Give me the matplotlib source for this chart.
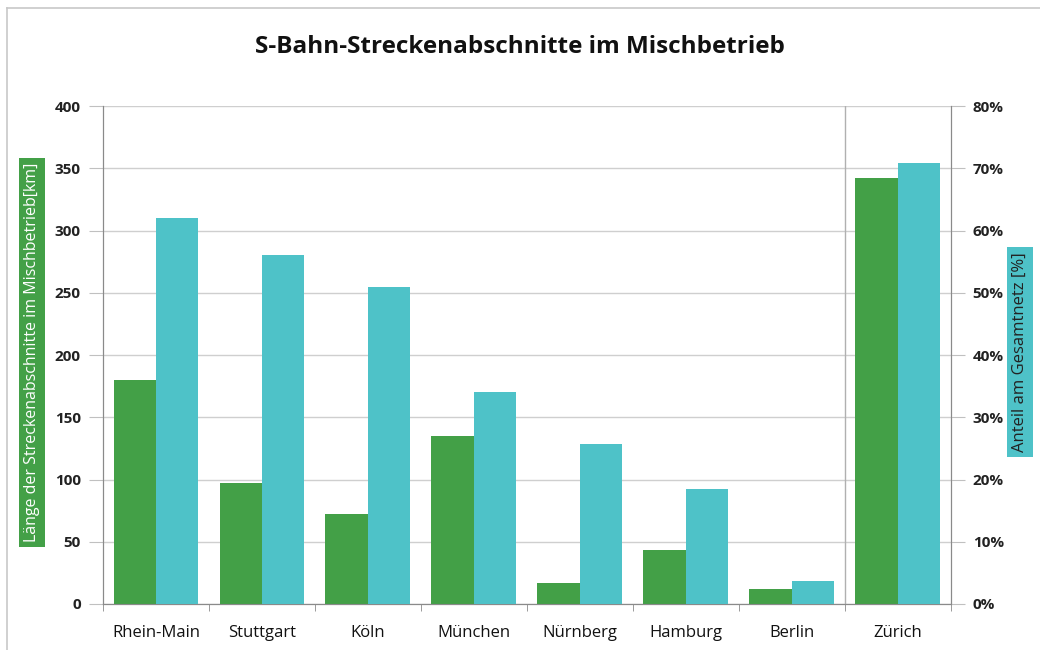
import matplotlib
matplotlib.use("Agg")
import matplotlib.pyplot as plt
from matplotlib.ticker import FuncFormatter
from matplotlib.lines import Line2D
import numpy as np

plt.rcParams['font.family'] = ['Open Sans', 'DejaVu Sans']

# data
cities = ["Rhein-Main", "Stuttgart", "Köln", "München", "Nürnberg", "Hamburg", "Berlin", "Zürich"]
length_km = [180, 97, 72, 135, 17, 43, 12, 342]
share_pct = [62, 56, 51, 34, 25.7, 18.5, 3.7, 70.8]
left_ticks = [0, 50, 100, 150, 200, 250, 300, 350, 400]
right_ticks = [0, 10, 20, 30, 40, 50, 60, 70, 80]

green = "#43A047"
cyan = "#4EC2C8"
axis_col = "#8a8a8a"

fig = plt.figure(figsize=(10.4, 6.5), dpi=100)
ax = fig.add_axes([0.099, 0.0708, 0.815, 0.766])
ax2 = ax.twinx()

x = np.arange(len(cities))
w = 0.4
ax.bar(x - w / 2, length_km, width=w, color=green, zorder=3)
ax2.bar(x + w / 2, share_pct, width=w, color=cyan, zorder=3)

ax.set_xlim(-0.5, len(cities) - 0.5)
ax.set_ylim(0, 400)
ax2.set_ylim(0, 80)
ax.set_yticks(left_ticks)
ax2.set_yticks(right_ticks)
ax2.yaxis.set_major_formatter(FuncFormatter(lambda v, p: f"{v:.0f}%"))

ax.grid(axis="y", color="#cfcfcf", linewidth=1, zorder=0)
ax.set_axisbelow(True)
ax.axvline(len(cities) - 1.5, color="#b0b0b0", linewidth=1, zorder=1)

# category labels at centres, ticks at boundaries
ax.set_xticks(x)
ax.set_xticklabels(cities, fontsize=12, color="#111111")
ax.tick_params(axis="x", length=0, pad=15)
ax.set_xticks(np.arange(-0.5, len(cities)), minor=True)
ax.tick_params(axis="x", which="minor", length=5, color=axis_col, direction="out")

for a in (ax, ax2):
    a.spines["top"].set_visible(False)
    for s in ("left", "right", "bottom"):
        a.spines[s].set_color(axis_col)
ax.tick_params(axis="y", length=10, color="#c0c0c0", labelsize=11, pad=6, labelcolor="#222222")
ax2.tick_params(axis="y", length=10, color="#c0c0c0", labelsize=11, pad=6, labelcolor="#222222")
for lbl in ax.get_yticklabels() + ax2.get_yticklabels():
    lbl.set_fontweight("bold")

fig.text(0.5, 0.928, "S-Bahn-Streckenabschnitte im Mischbetrieb", ha="center", va="center",
         fontsize=17.5, fontweight="bold", color="#111111")

fig.text(0.031, 0.458, "Länge der Streckenabschnitte im Mischbetrieb[km]", rotation=90,
         ha="center", va="center", fontsize=11.5, color="white",
         bbox=dict(boxstyle="square,pad=0.3", facecolor=green, edgecolor="none"))
fig.text(0.981, 0.458, "Anteil am Gesamtnetz [%]", rotation=90,
         ha="center", va="center", fontsize=12, color="#222222",
         bbox=dict(boxstyle="square,pad=0.3", facecolor=cyan, edgecolor="none"))

# thin frame on left and top of the picture
fig.add_artist(Line2D([0.007, 0.007], [0.0, 0.988], transform=fig.transFigure, color="#c8c8c8", linewidth=1.2))
fig.add_artist(Line2D([0.007, 1.0], [0.988, 0.988], transform=fig.transFigure, color="#c8c8c8", linewidth=1.2))

fig.savefig("out.png", dpi=100)
